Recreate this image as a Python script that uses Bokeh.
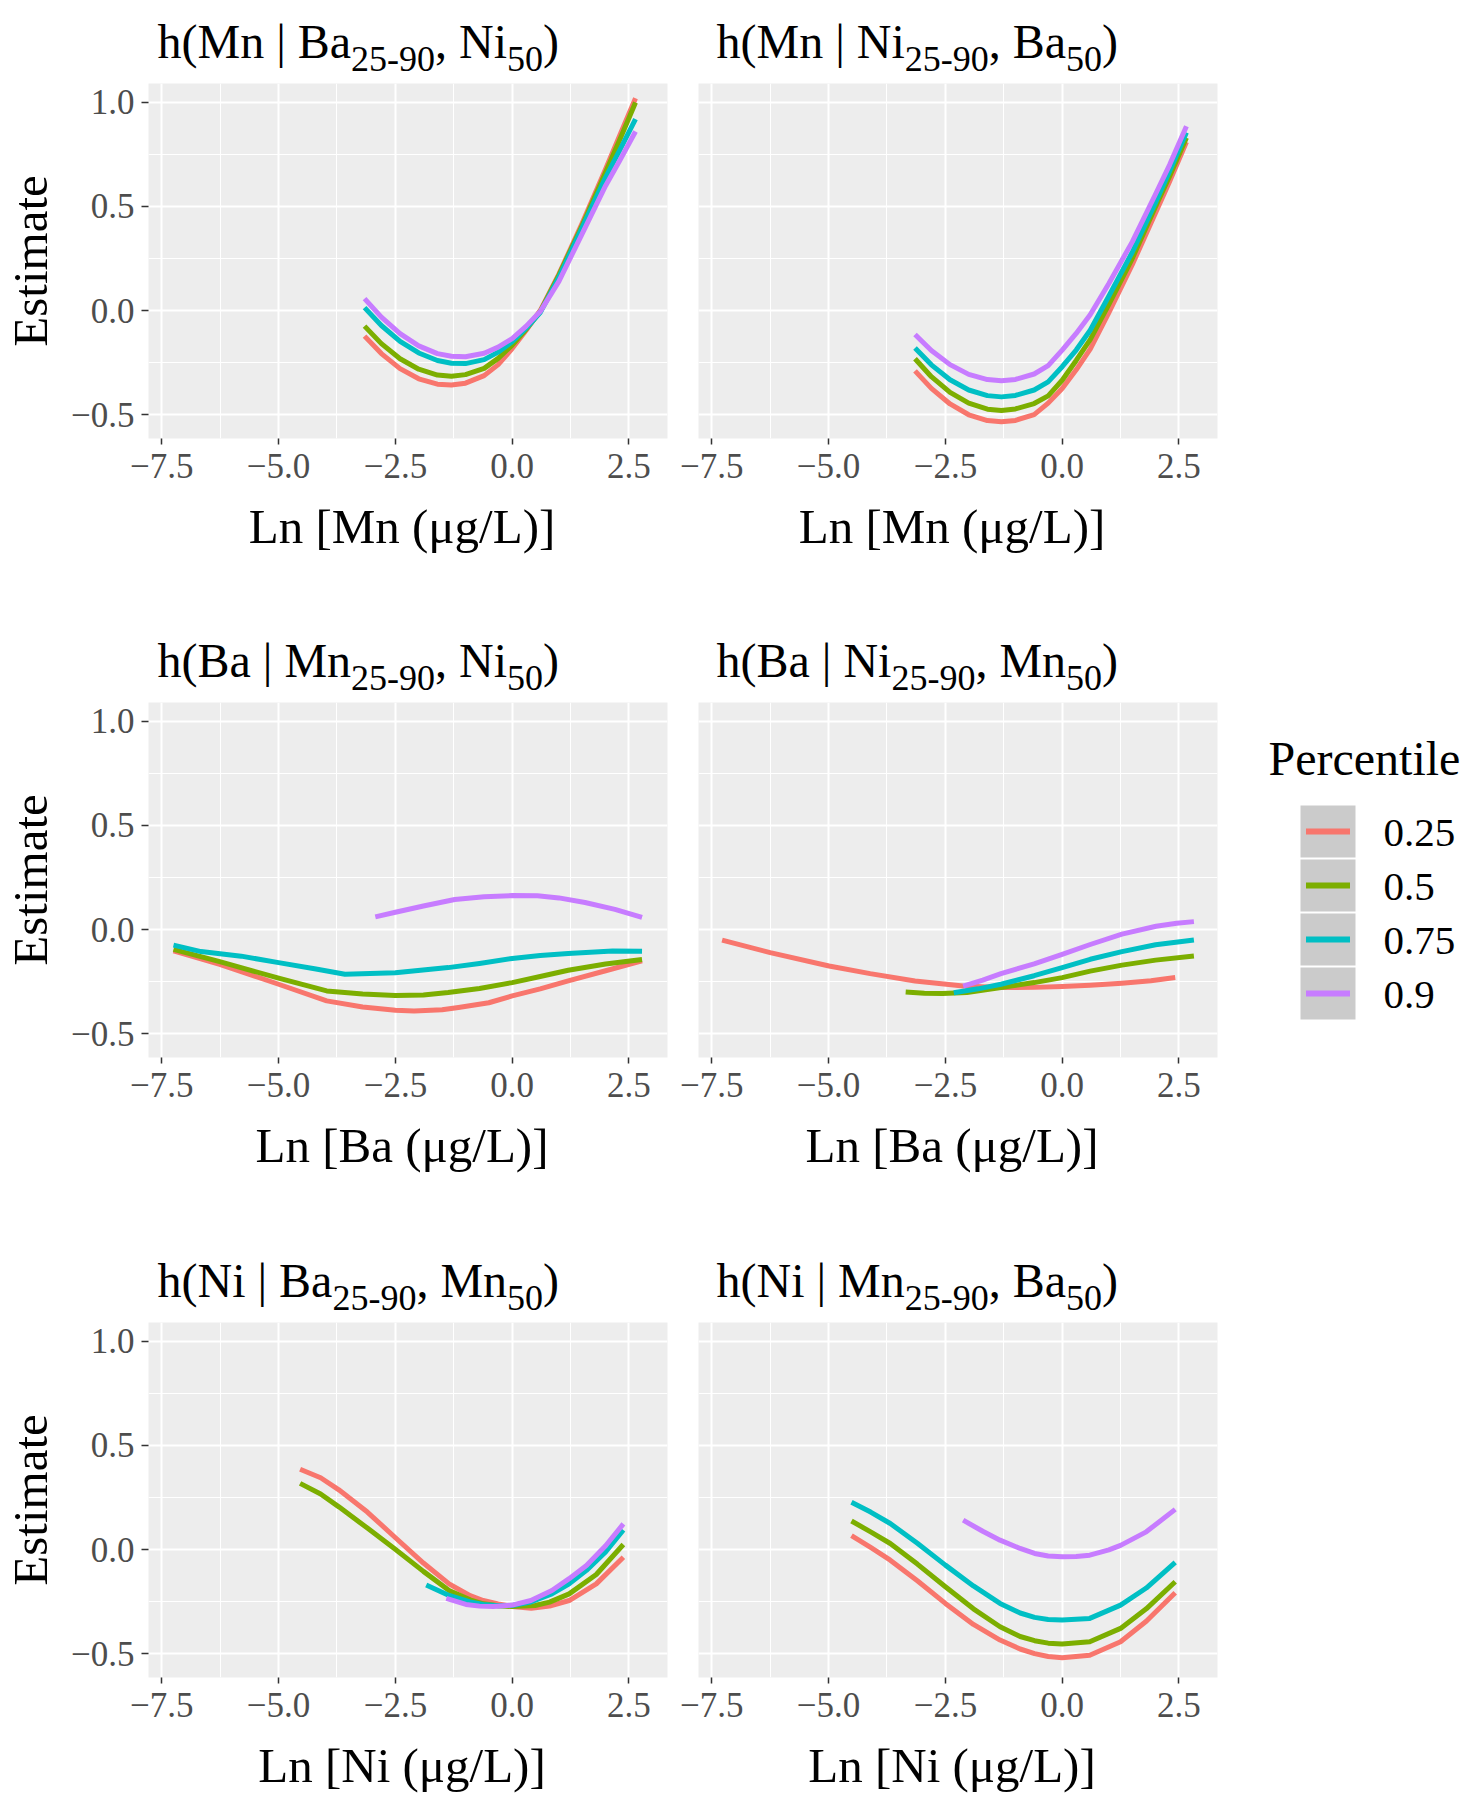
from bokeh.plotting import figure
from bokeh.layouts import row, column
from bokeh.models import Range1d, FixedTicker, ColumnDataSource
from bokeh.core.properties import value
from bokeh.embed import file_html
from bokeh.resources import INLINE

FONT = "Liberation Serif"

# ---------------- legend / series ----------------
percentiles = ["0.25", "0.5", "0.75", "0.9"]
colors = ["#F8766D", "#7CAE00", "#00BFC4", "#C77CFF"]
legend_title = "Percentile"

# ---------------- panel titles & labels ----------------
panel_focus = ["Mn", "Mn", "Ba", "Ba", "Ni", "Ni"]
panel_vary = ["Ba", "Ni", "Mn", "Ni", "Ba", "Mn"]
panel_fixed = ["Ni", "Ba", "Ni", "Mn", "Mn", "Ba"]
vary_sub = "25-90"
fixed_sub = "50"
x_titles = ["Ln [Mn (μg/L)]", "Ln [Mn (μg/L)]", "Ln [Ba (μg/L)]",
            "Ln [Ba (μg/L)]", "Ln [Ni (μg/L)]", "Ln [Ni (μg/L)]"]
y_title = "Estimate"

x_ticks = [-7.5, -5.0, -2.5, 0.0, 2.5]
x_tick_labels = ["−7.5", "−5.0", "−2.5", "0.0", "2.5"]
x_minor = [-6.25, -3.75, -1.25, 1.25]
y_ticks = [-0.5, 0.0, 0.5, 1.0]
y_tick_labels = ["−0.5", "0.0", "0.5", "1.0"]
y_minor = [-0.25, 0.25, 0.75]

# ---------------- data: h(Mn | Ba25-90, Ni50) ----------------
mn_ba_x = [-3.16, -2.8, -2.4, -2.0, -1.6, -1.3, -1.0, -0.6, -0.3, 0.0, 0.3, 0.6, 1.0, 1.5, 2.0, 2.3, 2.64]
mn_ba_y25 = [-0.123, -0.207, -0.279, -0.328, -0.354, -0.358, -0.349, -0.313, -0.26, -0.183, -0.095, 0.0, 0.175, 0.42, 0.68, 0.84, 1.02]
mn_ba_y50 = [-0.075, -0.159, -0.232, -0.282, -0.31, -0.316, -0.308, -0.278, -0.23, -0.166, -0.09, -0.005, 0.17, 0.41, 0.665, 0.82, 1.0]
mn_ba_y75 = [0.014, -0.072, -0.148, -0.204, -0.24, -0.253, -0.255, -0.236, -0.2, -0.15, -0.085, -0.01, 0.16, 0.40, 0.64, 0.77, 0.92]
mn_ba_y90 = [0.057, -0.032, -0.111, -0.17, -0.207, -0.22, -0.222, -0.205, -0.176, -0.135, -0.075, -0.005, 0.14, 0.37, 0.60, 0.72, 0.86]

# ---------------- data: h(Mn | Ni25-90, Ba50) ----------------
mn_ni_x = [-3.15, -2.8, -2.4, -2.0, -1.6, -1.3, -1.0, -0.6, -0.3, 0.0, 0.3, 0.6, 1.0, 1.5, 2.0, 2.3, 2.66]
mn_ni_y25 = [-0.29, -0.374, -0.449, -0.501, -0.529, -0.535, -0.528, -0.50, -0.445, -0.375, -0.285, -0.185, -0.01, 0.22, 0.47, 0.62, 0.81]
mn_ni_y50 = [-0.232, -0.318, -0.393, -0.445, -0.474, -0.48, -0.473, -0.447, -0.41, -0.335, -0.24, -0.14, 0.03, 0.25, 0.50, 0.645, 0.83]
mn_ni_y75 = [-0.18, -0.261, -0.333, -0.382, -0.409, -0.415, -0.408, -0.382, -0.343, -0.27, -0.19, -0.095, 0.07, 0.28, 0.52, 0.67, 0.855]
mn_ni_y90 = [-0.115, -0.192, -0.26, -0.307, -0.332, -0.338, -0.331, -0.305, -0.265, -0.19, -0.11, -0.02, 0.13, 0.33, 0.56, 0.70, 0.885]

# ---------------- data: h(Ba | Mn25-90, Ni50) ----------------
ba_mn_x25 = [-7.25, -6.26, -5.0, -3.97, -3.2, -2.5, -2.1, -1.5, -1.15, -0.5, 0.0, 0.6, 1.2, 2.0, 2.78]
ba_mn_y25 = [-0.103, -0.167, -0.263, -0.343, -0.372, -0.388, -0.391, -0.386, -0.375, -0.352, -0.319, -0.285, -0.247, -0.198, -0.151]
ba_mn_x50 = [-7.25, -6.26, -5.0, -3.97, -3.2, -2.5, -1.9, -1.37, -0.7, 0.0, 0.6, 1.2, 2.0, 2.78]
ba_mn_y50 = [-0.095, -0.154, -0.234, -0.295, -0.31, -0.317, -0.315, -0.303, -0.283, -0.255, -0.226, -0.196, -0.166, -0.144]
ba_mn_x75 = [-7.25, -6.66, -5.8, -5.0, -4.2, -3.58, -2.5, -1.37, -0.7, 0.0, 0.6, 1.2, 2.15, 2.78]
ba_mn_y75 = [-0.075, -0.106, -0.128, -0.159, -0.19, -0.215, -0.208, -0.183, -0.163, -0.139, -0.125, -0.115, -0.103, -0.104]
ba_mn_x90 = [-2.93, -2.5, -1.9, -1.23, -0.6, 0.0, 0.54, 1.0, 1.56, 2.2, 2.78]
ba_mn_y90 = [0.061, 0.083, 0.113, 0.144, 0.158, 0.163, 0.162, 0.152, 0.13, 0.097, 0.058]

# ---------------- data: h(Ba | Ni25-90, Mn50) ----------------
ba_ni_x25 = [-7.28, -6.25, -4.99, -4.11, -3.15, -2.12, -1.31, -0.6, 0.0, 0.6, 1.28, 1.9, 2.42]
ba_ni_y25 = [-0.051, -0.111, -0.175, -0.212, -0.247, -0.271, -0.279, -0.278, -0.274, -0.268, -0.258, -0.246, -0.231]
ba_ni_x50 = [-3.35, -2.95, -2.56, -2.04, -1.31, -0.6, 0.0, 0.6, 1.28, 2.0, 2.82]
ba_ni_y50 = [-0.30, -0.306, -0.308, -0.303, -0.279, -0.255, -0.231, -0.2, -0.171, -0.147, -0.127]
ba_ni_x75 = [-2.32, -1.8, -1.31, -0.6, 0.0, 0.6, 1.28, 2.0, 2.82]
ba_ni_y75 = [-0.304, -0.285, -0.263, -0.222, -0.183, -0.143, -0.106, -0.073, -0.05]
ba_ni_x90 = [-2.12, -1.7, -1.31, -0.6, 0.0, 0.6, 1.28, 2.01, 2.45, 2.82]
ba_ni_y90 = [-0.272, -0.243, -0.212, -0.165, -0.119, -0.072, -0.022, 0.016, 0.03, 0.038]

# ---------------- data: h(Ni | Ba25-90, Mn50) ----------------
ni_ba_x25 = [-4.54, -4.1, -3.71, -3.1, -2.51, -1.9, -1.35, -0.9, -0.62, -0.3, 0.0, 0.41, 0.8, 1.22, 1.8, 2.38]
ni_ba_y25 = [0.386, 0.345, 0.287, 0.18, 0.059, -0.065, -0.165, -0.222, -0.245, -0.262, -0.274, -0.282, -0.272, -0.245, -0.165, -0.037]
ni_ba_x50 = [-4.54, -4.1, -3.71, -3.1, -2.51, -1.9, -1.35, -0.9, -0.62, -0.3, 0.0, 0.49, 0.8, 1.22, 1.8, 2.38]
ni_ba_y50 = [0.318, 0.267, 0.205, 0.103, 0.003, -0.105, -0.197, -0.242, -0.261, -0.27, -0.274, -0.269, -0.253, -0.213, -0.12, 0.024]
ni_ba_x75 = [-1.84, -1.35, -0.9, -0.62, -0.3, 0.0, 0.4, 0.85, 1.22, 1.59, 2.0, 2.38]
ni_ba_y75 = [-0.17, -0.221, -0.252, -0.264, -0.27, -0.269, -0.252, -0.213, -0.165, -0.10, -0.012, 0.094]
ni_ba_x90 = [-1.41, -0.99, -0.7, -0.4, 0.0, 0.4, 0.85, 1.22, 1.59, 2.0, 2.38]
ni_ba_y90 = [-0.235, -0.264, -0.272, -0.274, -0.267, -0.245, -0.197, -0.14, -0.077, 0.018, 0.123]

# ---------------- data: h(Ni | Mn25-90, Ba50) ----------------
ni_mn_x = [-4.51, -4.1, -3.68, -3.1, -2.5, -1.9, -1.33, -0.9, -0.59, -0.3, 0.0, 0.59, 1.25, 1.8, 2.42]
ni_mn_y25 = [0.067, 0.01, -0.051, -0.15, -0.259, -0.36, -0.435, -0.478, -0.500, -0.514, -0.52, -0.508, -0.443, -0.345, -0.208]
ni_mn_y50 = [0.137, 0.085, 0.029, -0.07, -0.179, -0.285, -0.371, -0.418, -0.438, -0.45, -0.454, -0.443, -0.379, -0.285, -0.155]
ni_mn_y75 = [0.227, 0.18, 0.125, 0.03, -0.075, -0.175, -0.259, -0.305, -0.326, -0.336, -0.339, -0.331, -0.267, -0.185, -0.062]
ni_mn_x90 = [-2.12, -1.7, -1.33, -0.9, -0.59, -0.3, 0.0, 0.3, 0.59, 1.0, 1.25, 1.8, 2.42]
ni_mn_y90 = [0.141, 0.088, 0.045, 0.005, -0.019, -0.031, -0.035, -0.033, -0.027, -0.002, 0.02, 0.085, 0.193]

panel_series = [
    [(mn_ba_x, mn_ba_y25), (mn_ba_x, mn_ba_y50), (mn_ba_x, mn_ba_y75), (mn_ba_x, mn_ba_y90)],
    [(mn_ni_x, mn_ni_y25), (mn_ni_x, mn_ni_y50), (mn_ni_x, mn_ni_y75), (mn_ni_x, mn_ni_y90)],
    [(ba_mn_x25, ba_mn_y25), (ba_mn_x50, ba_mn_y50), (ba_mn_x75, ba_mn_y75), (ba_mn_x90, ba_mn_y90)],
    [(ba_ni_x25, ba_ni_y25), (ba_ni_x50, ba_ni_y50), (ba_ni_x75, ba_ni_y75), (ba_ni_x90, ba_ni_y90)],
    [(ni_ba_x25, ni_ba_y25), (ni_ba_x50, ni_ba_y50), (ni_ba_x75, ni_ba_y75), (ni_ba_x90, ni_ba_y90)],
    [(ni_mn_x, ni_mn_y25), (ni_mn_x, ni_mn_y50), (ni_mn_x, ni_mn_y75), (ni_mn_x90, ni_mn_y90)],
]

# ---------------- layout constants (pixels) ----------------
FRAME_W = 519
COL_LEFT = [148, 23]
COL_RIGHT = [8, 10]
FRAME_H = 355
TICK_B = 60                      # border below frame holding tick labels
TITLE_H = [83, 82, 82]           # strip above each frame
XLAB_H = [122, 123, 59]          # strip below each panel holding the x title
TITLE_BASE = [26, 26, 26]        # title baseline above frame top
XLAB_BASE = [77, 78, 14]         # x-title baseline above strip bottom
XLAB_SHIFT = -6                  # x-title centre relative to frame centre
Y_LO, Y_HI = -0.615, 1.091
X_LO, X_HI = -7.785, 3.325
LEGEND_W = 239
TITLE_INDENT = [9, 18]
MID = 0.34                       # baseline -> text-box centre, in em

TITLE_SIZE = 48
SUB_SIZE = 36
SUB_DROP = 14
XLAB_SIZE = 49

# Times / Liberation Serif advance widths (1/1000 em)
ADV = {"h": 500, "(": 333, ")": 333, "M": 889, "n": 500, " ": 250, "|": 200,
       "B": 667, "a": 444, ",": 250, "N": 722, "i": 278, "2": 500, "5": 500,
       "-": 333, "9": 500, "0": 500}


def tw(s, size):
    return sum(ADV.get(c, 500) for c in s) / 1000.0 * size


def blank_fig(width, height):
    p = figure(width=width, height=height, x_range=Range1d(0, width), y_range=Range1d(0, height),
               output_backend="svg", toolbar_location=None, title=None,
               min_border_left=0, min_border_right=0, min_border_top=0, min_border_bottom=0)
    p.outline_line_color = None
    p.border_fill_color = "white"
    p.background_fill_color = "white"
    p.axis.visible = False
    p.grid.visible = False
    return p


def put_text(p, xs, baselines, texts, size, align="left"):
    p.text(x=xs, y=[b + MID * size for b in baselines], text=texts, text_font=value(FONT),
           text_font_size=value(f"{size}px"), text_baseline="middle", text_align=align,
           text_color="black")


def title_fig(k, r, c):
    width = COL_LEFT[c] + FRAME_W + COL_RIGHT[c]
    p = blank_fig(width, TITLE_H[r])
    pieces = [("h(" + panel_focus[k] + " | " + panel_vary[k], False), (vary_sub, True),
              (", " + panel_fixed[k], False), (fixed_sub, True), (")", False)]
    mx, my, mt, sx, sy, st = [], [], [], [], [], []
    x = COL_LEFT[c] + TITLE_INDENT[c]
    base = TITLE_BASE[r]
    for txt, is_sub in pieces:
        if is_sub:
            sx.append(x); sy.append(base - SUB_DROP); st.append(txt)
            x += tw(txt, SUB_SIZE)
        else:
            mx.append(x); my.append(base); mt.append(txt)
            x += tw(txt, TITLE_SIZE)
    put_text(p, mx, my, mt, TITLE_SIZE)
    put_text(p, sx, sy, st, SUB_SIZE)
    return p


def xlabel_fig(k, r, c):
    width = COL_LEFT[c] + FRAME_W + COL_RIGHT[c]
    p = blank_fig(width, XLAB_H[r])
    put_text(p, [COL_LEFT[c] + FRAME_W / 2 + XLAB_SHIFT], [XLAB_BASE[r]], [x_titles[k]],
             XLAB_SIZE, align="center")
    return p


def panel_fig(k, r, c):
    width = COL_LEFT[c] + FRAME_W + COL_RIGHT[c]
    height = FRAME_H + TICK_B
    p = figure(width=width, height=height,
               x_range=Range1d(X_LO, X_HI), y_range=Range1d(Y_LO, Y_HI),
               output_backend="svg", toolbar_location=None, title=None,
               min_border_left=COL_LEFT[c], min_border_right=COL_RIGHT[c],
               min_border_top=0, min_border_bottom=TICK_B)
    p.outline_line_color = None
    p.border_fill_color = "white"
    p.background_fill_color = "#EDEDED"

    p.xgrid.ticker = FixedTicker(ticks=x_ticks, minor_ticks=x_minor)
    p.ygrid.ticker = FixedTicker(ticks=y_ticks, minor_ticks=y_minor)
    for g in (p.xgrid, p.ygrid):
        g.grid_line_color = "white"
        g.grid_line_width = 2
        g.minor_grid_line_color = "white"
        g.minor_grid_line_width = 1

    xa = p.xaxis[0]
    xa.ticker = FixedTicker(ticks=x_ticks)
    xa.major_label_overrides = dict(zip(x_ticks, x_tick_labels))
    xa.axis_line_color = None
    xa.minor_tick_line_color = None
    xa.major_tick_line_color = "#333333"
    xa.major_tick_line_width = 1.5
    xa.major_tick_out = 6
    xa.major_tick_in = 0
    xa.major_label_standoff = 9
    xa.major_label_text_font = FONT
    xa.major_label_text_font_size = "35px"
    xa.major_label_text_color = "#4D4D4D"

    ya = p.yaxis[0]
    if c == 0:
        ya.ticker = FixedTicker(ticks=y_ticks)
        ya.major_label_overrides = dict(zip(y_ticks, y_tick_labels))
        ya.axis_line_color = None
        ya.minor_tick_line_color = None
        ya.major_tick_line_color = "#333333"
        ya.major_tick_line_width = 1.5
        ya.major_tick_out = 7
        ya.major_tick_in = 0
        ya.major_label_standoff = 7
        ya.major_label_text_font = FONT
        ya.major_label_text_font_size = "35px"
        ya.major_label_text_color = "#4D4D4D"
        ya.axis_label = y_title
        ya.axis_label_text_font = FONT
        ya.axis_label_text_font_size = "49px"
        ya.axis_label_text_font_style = "normal"
        ya.axis_label_text_color = "black"
        ya.axis_label_standoff = 10
    else:
        ya.visible = False

    for (xs, ys), col in zip(panel_series[k], colors):
        src = ColumnDataSource(dict(x=xs, y=ys))
        p.line("x", "y", source=src, line_color=col, line_width=5, line_join="round")
    return p


blocks = []
for r in range(3):
    blocks.append(row(*[title_fig(r * 2 + c, r, c) for c in range(2)], spacing=0))
    blocks.append(row(*[panel_fig(r * 2 + c, r, c) for c in range(2)], spacing=0))
    blocks.append(row(*[xlabel_fig(r * 2 + c, r, c) for c in range(2)], spacing=0))

grid = column(*blocks, spacing=0)
TOTAL_H = sum(TITLE_H) + 3 * (FRAME_H + TICK_B) + sum(XLAB_H)

# ---------------- legend figure (page x 1227.., y 0..) ----------------
lg = blank_fig(LEGEND_W, TOTAL_H)
LG_TITLE_X, LG_TITLE_BASE = 41, TOTAL_H - 774
KEY_X, KEY_W, KEY_H, KEY_STEP = 100.5, 55, 52, 54
KEY_TOP = TOTAL_H - 831
n = len(percentiles)
key_y = [KEY_TOP - i * KEY_STEP for i in range(n)]
put_text(lg, [LG_TITLE_X], [LG_TITLE_BASE], [legend_title], 48)
lg.rect(x=[KEY_X] * n, y=key_y, width=KEY_W, height=KEY_H, fill_color="#CBCBCB", line_color=None)
lg.segment(x0=[KEY_X - 22] * n, y0=key_y, x1=[KEY_X + 22] * n, y1=key_y, line_color=colors, line_width=6)
put_text(lg, [156] * n, [yy - 15 for yy in key_y], percentiles, 41)

layout = row(grid, lg, spacing=0)

open("out.html", "w").write(file_html(layout, INLINE))
